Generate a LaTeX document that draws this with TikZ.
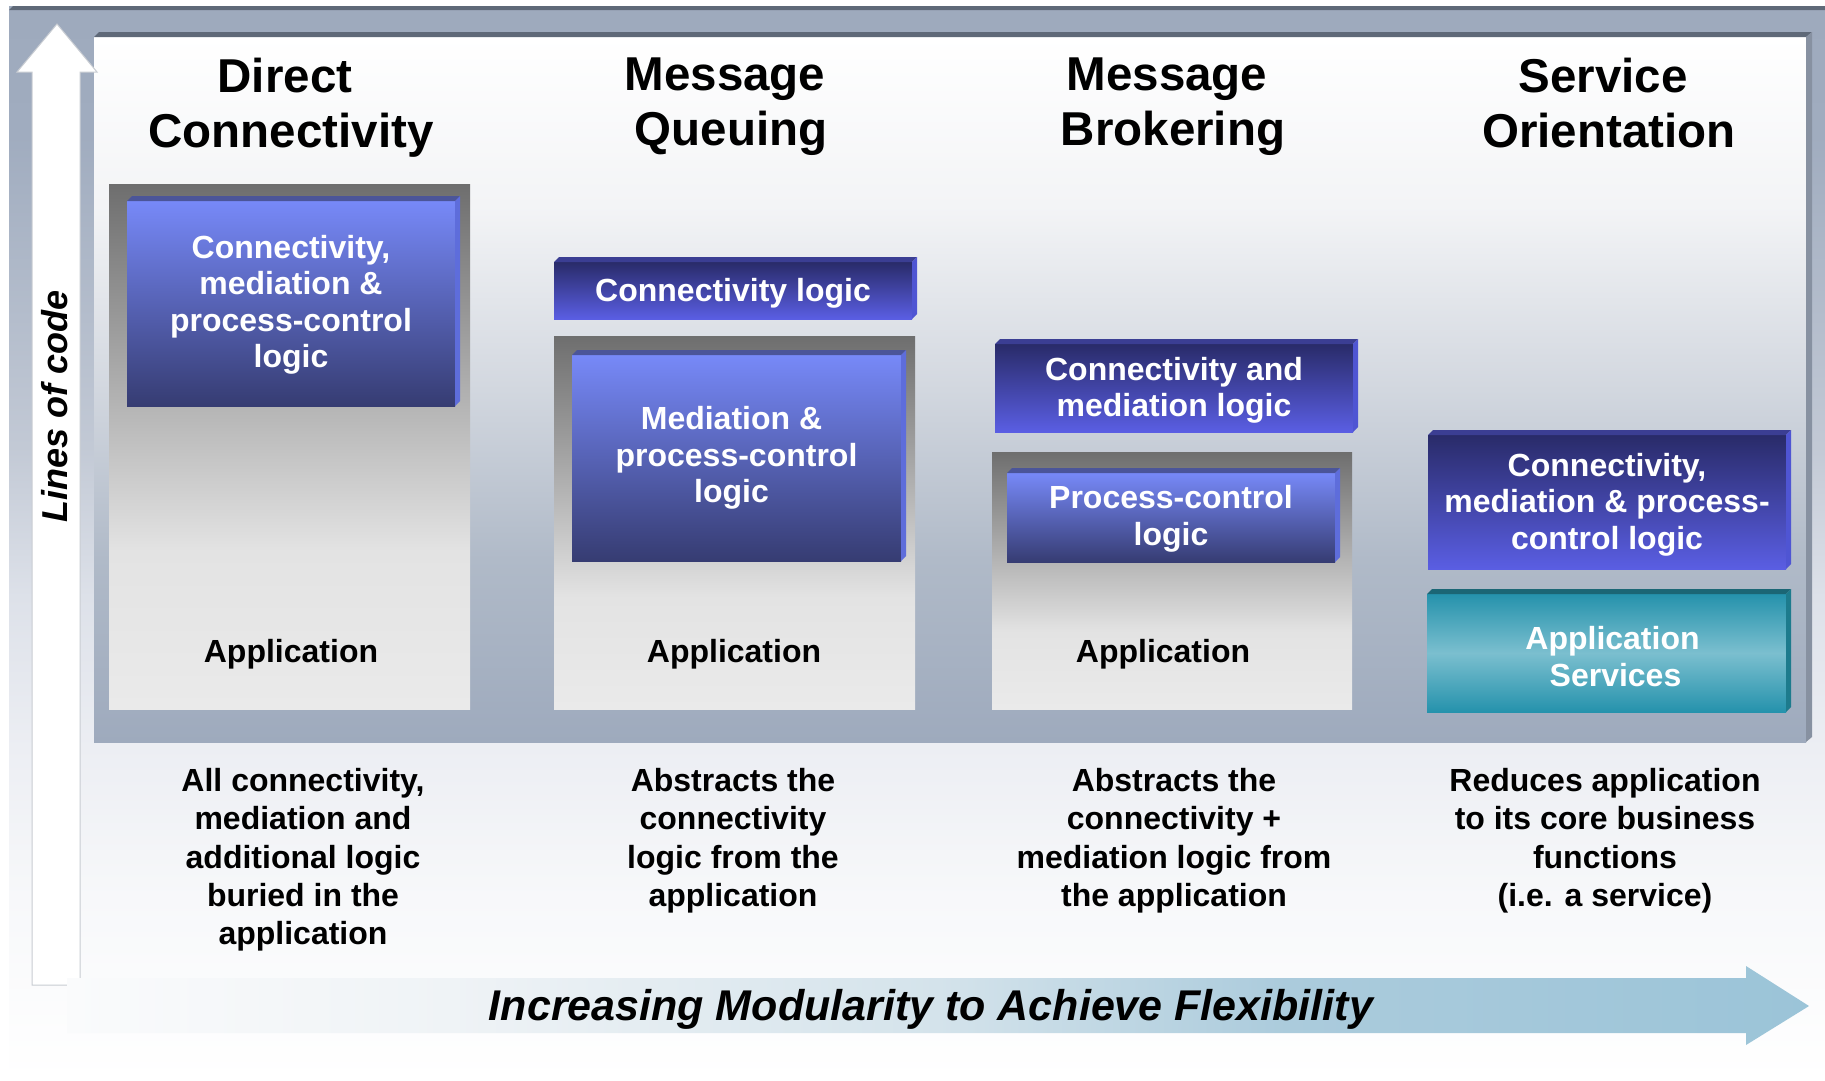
\documentclass[tikz,border=0pt]{standalone}
\usepackage{fontspec}
\setmainfont{Liberation Sans}
\definecolor{oc1}{HTML}{9EAABD}
\definecolor{oc2}{HTML}{A0ACBF}
\definecolor{oc3}{HTML}{C2C9D5}
\definecolor{oc4}{HTML}{DDE1E9}
\definecolor{oc5}{HTML}{ECEEF3}
\definecolor{oc6}{HTML}{F7F8FA}
\definecolor{ib1}{HTML}{F3F4F6}
\definecolor{ib2}{HTML}{D2D7DF}
\definecolor{ib3}{HTML}{B0BAC8}
\definecolor{ib4}{HTML}{9EAABD}
\definecolor{gb1}{HTML}{6E6E6E}
\definecolor{gb2}{HTML}{E3E3E3}
\definecolor{gb3}{HTML}{EAEAEA}
\definecolor{ha0}{HTML}{FAFBFC}
\definecolor{ha1}{HTML}{EFF3F6}
\definecolor{ha2}{HTML}{D4E3EB}
\definecolor{ha3}{HTML}{ABCBDC}
\definecolor{ha4}{HTML}{9BC4D8}
\definecolor{darkline}{HTML}{5F6978}
\definecolor{panelside}{HTML}{8791A1}
\definecolor{lbTop}{HTML}{7789F8}
\definecolor{lbBot}{HTML}{363C72}
\definecolor{lbBevT}{HTML}{4B5599}
\definecolor{lbBevS}{HTML}{5E6DDB}
\definecolor{dbTop}{HTML}{292B69}
\definecolor{dbBot}{HTML}{5A5EE3}
\definecolor{dbBevT}{HTML}{3B3E93}
\definecolor{dbBevS}{HTML}{4F55D3}
\definecolor{tlEdge}{HTML}{2592AC}
\definecolor{tlMid}{HTML}{7BBFCF}
\definecolor{tlBevT}{HTML}{1B6675}
\definecolor{tlBevS}{HTML}{1D7B8D}
\definecolor{arrowline}{HTML}{C8CCD2}
\pgfdeclareverticalshading{outerbg}{100bp}{color(0bp)=(white); color(25bp)=(white); color(33.5bp)=(oc6); color(40.5bp)=(oc5); color(47.5bp)=(oc4); color(54.5bp)=(oc3); color(69bp)=(oc2); color(75bp)=(oc1); color(100bp)=(oc1)}
\pgfdeclareverticalshading{innerbg}{100bp}{color(0bp)=(ib4); color(25bp)=(ib4); color(38bp)=(ib3); color(50bp)=(ib2); color(63bp)=(ib1); color(75bp)=(white); color(100bp)=(white)}
\pgfdeclareverticalshading{greybox}{100bp}{color(0bp)=(gb3); color(25bp)=(gb3); color(40bp)=(gb2); color(75bp)=(gb1); color(100bp)=(gb1)}
\pgfdeclarehorizontalshading{harrow}{100bp}{color(0bp)=(ha0); color(25bp)=(ha0); color(36bp)=(ha1); color(50bp)=(ha2); color(60bp)=(ha3); color(75bp)=(ha4); color(100bp)=(ha4)}
\newcommand{\bevels}[3]{%
  \fill[#2] (#1.north west) -- ++(5,-5) -- ([shift={(5,-5)}]#1.north east) -- (#1.north east) -- cycle;
  \fill[#3] (#1.north east) -- ++(5,-5) -- ([shift={(5,-5)}]#1.south east) -- (#1.south east) -- cycle;}
\newcommand{\topstrut}[1]{\rule{0pt}{\dimexpr0.7\baselineskip+#1\relax}}
\newcommand{\fl}[1]{\rule{0pt}{\dimexpr23.4pt+#1\relax}}
\tikzset{
  boxface/.style={inner sep=0pt, outer sep=0pt, anchor=north west, text=white, align=center,
    font=\fontsize{32}{36.5}\selectfont\bfseries},
  lightbox/.style={boxface, top color=lbTop, bottom color=lbBot},
  darkbox/.style={boxface, top color=dbTop, bottom color=dbBot},
  tealbox/.style={boxface, top color=tlEdge, bottom color=tlEdge, middle color=tlMid},
  greyb/.style={inner sep=0pt, outer sep=0pt, anchor=north west, shade, shading=greybox},
  applbl/.style={inner sep=0pt, anchor=base, font=\fontsize{32}{36.5}\selectfont\bfseries},
  title/.style={inner sep=0pt, anchor=north, align=center, font=\fontsize{47.5}{55}\selectfont\bfseries,
    execute at begin node=\strut, execute at end node=\strut},
  caption/.style={inner sep=0pt, anchor=north, align=center, font=\fontsize{32}{38.3}\selectfont\bfseries,
    execute at begin node=\strut, execute at end node=\strut},
}
\begin{document}
\begin{tikzpicture}[x=1pt,y=-1pt]
\useasboundingbox (0,0) rectangle (1825,1080);
% outer frame
\shade[shading=outerbg] (9,6) rectangle (1825,1080);
\fill[darkline] (9,10) -- (13,6) -- (1825,6) -- (1825,10) -- cycle;
% inner panel
\shade[shading=innerbg] (94,37) rectangle (1806,742);
\fill[darkline] (94,37) -- (99,32) -- (1812,32) -- (1806,37) -- cycle;
\fill[panelside] (1806,37) -- (1812,32) -- (1812,737) -- (1806,742) -- cycle;
% vertical arrow
\filldraw[fill=white, draw=arrowline, line width=1pt] (32,985) -- (32,72) -- (17,72) -- (57,24) -- (97,72) -- (80,72) -- (80,985) -- cycle;
\node[rotate=90, anchor=base, inner sep=0pt, font=\fontsize{36}{40}\selectfont\bfseries\itshape] (loc) at (67,406) {Lines of code};
% titles
\node[title] (t1) at (291,58) {Direct\hspace*{12pt}\\Connectivity};
\node[title] (t2) at (731,58) {Message\hspace*{12pt}\\Queuing};
\node[title] (t3) at (1173,58) {Message\hspace*{12pt}\\Brokering};
\node[title] (t4) at (1609,58) {Service\hspace*{12pt}\\Orientation};
% grey application boxes
\node[greyb, minimum width=361pt, minimum height=525pt] (g1) at (109,184) {};
\node[greyb, minimum width=361pt, minimum height=373pt] (g2) at (554,336) {};
\node[greyb, minimum width=360pt, minimum height=257pt] (g3) at (992,452) {};
\node[applbl] (a1) at (291,662) {Application};
\node[applbl] (a2) at (734,662) {Application};
\node[applbl] (a3) at (1163,662) {Application};
% column 1
\node[lightbox, minimum width=328pt, minimum height=205pt] (b1) at (127,201) {\fl{2.4pt}Connectivity,\\mediation \&\\process-control\\logic};
\bevels{b1}{lbBevT}{lbBevS}
% column 2
\node[darkbox, minimum width=358pt, minimum height=57pt, execute at begin node=\topstrut{7pt}, execute at end node=\strut] (c2) at (554,262) {Connectivity logic};
\bevels{c2}{dbBevT}{dbBevS}
\node[lightbox, minimum width=329pt, minimum height=206pt] (b2) at (572,355) {\fl{-4.4pt}Mediation \&\hspace*{10pt}\\process-control\hspace*{10pt}\\logic\hspace*{10pt}};
\bevels{b2}{lbBevT}{lbBevS}
% column 3
\node[darkbox, minimum width=358pt, minimum height=88pt] (c3) at (995,344) {\fl{4.4pt}Connectivity and\\mediation logic};
\bevels{c3}{dbBevT}{dbBevS}
\node[lightbox, minimum width=328pt, minimum height=89pt] (b3) at (1007,473) {\fl{2.4pt}Process-control\\logic};
\bevels{b3}{lbBevT}{lbBevS}
% column 4
\node[darkbox, minimum width=358pt, minimum height=134pt] (c4) at (1428,435) {\fl{4.7pt}Connectivity,\\mediation \& process-\\control logic};
\bevels{c4}{dbBevT}{dbBevS}
\node[tealbox, minimum width=359pt, minimum height=118pt] (s4) at (1427,594) {\fl{6.6pt}\hspace*{12pt}Application\\\hspace*{18pt}Services};
\bevels{s4}{tlBevT}{tlBevS}
% captions
\node[caption] (d1) at (303,768.2) {All connectivity,\\mediation and\\additional logic\\buried in the\\application};
\node[caption] (d2) at (733,768.2) {Abstracts the\\connectivity\\logic from the\\application};
\node[caption] (d3) at (1174,768.2) {Abstracts the\\connectivity +\\mediation logic from\\the application};
\node[caption] (d4) at (1605,768.2) {Reduces application\\to its core business\\functions\\(i.e. a service)};
% horizontal arrow
\shade[shading=harrow] (67,978) -- (1746,978) -- (1746,966) -- (1809,1006) -- (1746,1045) -- (1746,1033) -- (67,1033) -- cycle;
\node[anchor=base, inner sep=0pt, font=\fontsize{43}{48}\selectfont\bfseries\itshape] (flex) at (931,1020) {Increasing Modularity to Achieve Flexibility};
\end{tikzpicture}
\end{document}
